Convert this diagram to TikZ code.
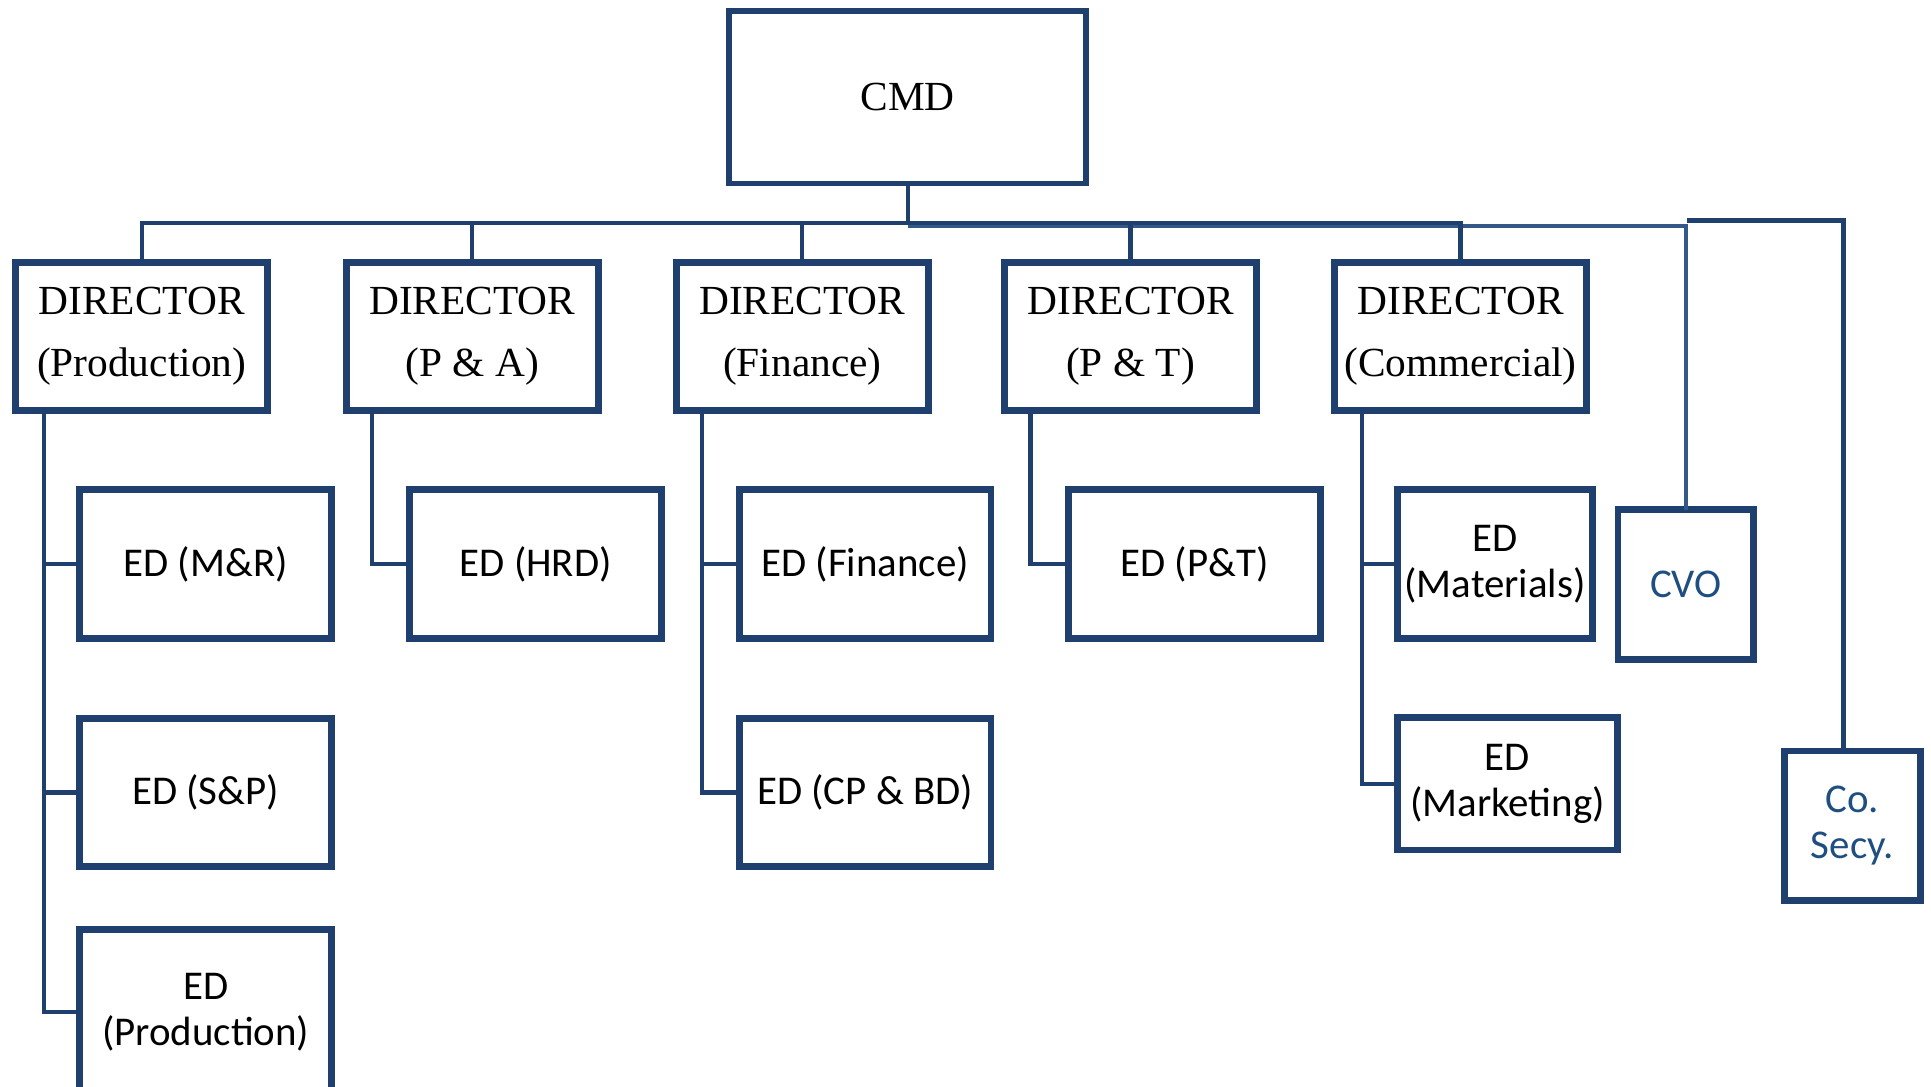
\documentclass[tikz,border=0pt]{standalone}
\usepackage{fontspec}
\setmainfont{Liberation Serif}
\newfontfamily\edfont{Carlito}
\definecolor{bord}{RGB}{31,64,110}
\definecolor{lite}{RGB}{52,88,136}
\definecolor{bluetxt}{RGB}{31,78,128}
\begin{document}
\begin{tikzpicture}[x=0.5pt,y=-0.5pt,
  box/.style={draw=bord,line width=2.8pt,fill=white,align=center,inner sep=0pt,outer sep=0pt},
  dirbox/.style={box,minimum width=102.2pt,minimum height=60.2pt,font=\fontsize{16.8}{25}\selectfont},
  edbox/.style={box,minimum width=102.2pt,minimum height=60.2pt,font=\edfont\fontsize{16.6}{18.8}\selectfont},
  conn/.style={draw=bord,line width=1.7pt},
  connlite/.style={draw=lite,line width=1.4pt}]
\useasboundingbox (0,0) rectangle (1568,882);
\clip (0,0) rectangle (1568,882);
\fill[white] (0,0) rectangle (1568,882);
% top
\node[box,line width=2.2pt,minimum width=145pt,minimum height=70pt,font=\fontsize{16.8}{20}\selectfont] (cmd) at (737,79) {CMD};
\coordinate (bus) at (737,181);
\coordinate (buslite) at (737,183.5);
\coordinate (csbus) at (1370,179);
\coordinate (csx) at (1497,179);
% directors
\node[dirbox] (d1) at (115,273) {DIRECTOR\\(Production)};
\node[dirbox] (d2) at (383.5,273) {DIRECTOR\\(P \& A)};
\node[dirbox] (d3) at (651.5,273) {DIRECTOR\\(Finance)};
\node[dirbox] (d4) at (918,273) {DIRECTOR\\(P \& T)};
\node[dirbox] (d5) at (1186,273) {DIRECTOR\\(Commercial)};
% EDs
\node[edbox] (edmr) at (167,458) {ED (M\&R)};
\node[edbox] (edsp) at (167,643.5) {ED (S\&P)};
\node[edbox,minimum height=67.5pt] (edprod) at (167,822) {ED\\(Production)};
\node[edbox] (edhrd) at (435,458) {ED (HRD)};
\node[edbox] (edfin) at (702.5,458) {ED (Finance)};
\node[edbox] (edcp) at (702.5,643.5) {ED (CP \& BD)};
\node[edbox] (edpt) at (970,458) {ED (P\&T)};
\node[edbox,minimum width=79.2pt] (edmat) at (1214,458) {ED\\(Materials)};
\node[edbox,minimum width=89.2pt,minimum height=53.7pt] (edmkt) at (1224,636.5) {ED\\(Marketing)};
\node[edbox,minimum width=55.2pt,minimum height=60.7pt,text=bluetxt] (cvo) at (1369,474.5) {CVO};
\node[edbox,minimum width=55.2pt,minimum height=60.7pt,text=bluetxt] (cosecy) at (1504,670.5) {Co.\\Secy.};
% bus
\draw[connlite] (buslite) -- (buslite -| cvo.north) -- (cvo.north);
\draw[conn] (cmd.south) -- (bus);
\draw[conn] (d1.north) -- (d1.north |- bus) -- (d5.north |- bus) -- (d5.north);
\foreach \d in {d2,d3,d4}{\draw[conn] (\d.north) -- (\d.north |- bus);}
\draw[conn] (csbus) -- (csx) -- (csx |- cosecy.north);
% spines
\draw[conn] ([xshift=11.5pt]d1.south west) |- (edprod.west);
\draw[conn] ([xshift=11.5pt]d1.south west) |- (edmr.west);
\draw[conn] ([xshift=11.5pt]d1.south west) |- (edsp.west);
\draw[conn] ([xshift=10.5pt]d2.south west) |- (edhrd.west);
\draw[conn] ([xshift=10.5pt]d3.south west) |- (edfin.west);
\draw[conn] ([xshift=10.5pt]d3.south west) |- (edcp.west);
\draw[conn] ([xshift=10.5pt]d4.south west) |- (edpt.west);
\draw[conn] ([xshift=11pt]d5.south west) |- (edmat.west);
\draw[conn] ([xshift=11pt]d5.south west) |- (edmkt.west);
\end{tikzpicture}
\end{document}
